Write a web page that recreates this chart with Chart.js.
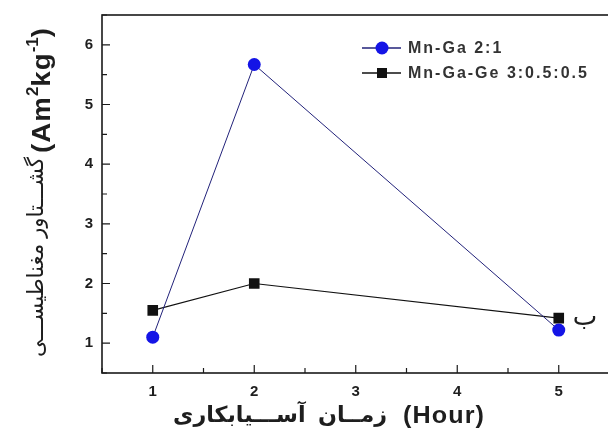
<!DOCTYPE html>
<html>
<head>
<meta charset="utf-8">
<script src="https://cdn.jsdelivr.net/npm/chart.js@4"></script>
<style>
  html, body { margin: 0; padding: 0; background: #fff; overflow: hidden; }
  #wrap { width: 608px; height: 433px; overflow: hidden; }
</style>
</head>
<body>
<div id="wrap"><canvas id="chart" width="617" height="433"></canvas></div>
<script>
const hours = [1, 2, 5];
const mnGa = [1.1, 5.67, 1.22];
const mnGaGe = [1.55, 2.0, 1.42];
const xTicks = [1, 2, 3, 4, 5];
const yTicks = [1, 2, 3, 4, 5, 6];
const seriesLabels = ['Mn-Ga 2:1', 'Mn-Ga-Ge 3:0.5:0.5'];
const yTitleFa = 'گشـــتاور مغناطیســـی';
const yTitleUnit = ['(Am', '2', 'kg', '-1', ')'];
const xTitleFa = 'زمــان  آســـیابکاری';
const xTitleUnit = '(Hour)';
const pointNote = 'ب';

const colors = {
  blue: '#1414e6',
  blueLine: '#22227a',
  black: '#111111',
  text: '#1e1e1e',
  axis: '#1a1a1a'
};
const fontFamily = 'Arial, "Liberation Sans", "DejaVu Sans", sans-serif';

// draw a list of text runs stretched to a target length along the baseline
function drawRuns(ctx, runs, x0, y0, target) {
  let natural = 0;
  runs.forEach(r => {
    ctx.font = r.font;
    ctx.letterSpacing = (r.spacing || 0) + 'px';
    r.w = ctx.measureText(r.text).width;
    natural += r.w;
  });
  ctx.save();
  ctx.translate(x0, y0);
  ctx.scale(target / natural, 1);
  let cx = 0;
  runs.forEach(r => {
    ctx.font = r.font;
    ctx.letterSpacing = (r.spacing || 0) + 'px';
    ctx.fillText(r.text, cx, r.dy || 0);
    cx += r.w;
  });
  ctx.restore();
  ctx.letterSpacing = '0px';
}

// inward ticks, frame, legend, titles and the note
const decorPlugin = {
  id: 'decor',
  afterDraw(chart) {
    const { ctx, chartArea: a, scales: { x, y } } = chart;
    ctx.save();
    ctx.strokeStyle = colors.axis;
    ctx.lineWidth = 1.6;
    ctx.strokeRect(a.left, a.top, a.right - a.left, a.bottom - a.top);

    ctx.lineWidth = 1.2;
    ctx.beginPath();
    for (let v = 0.5; v <= 6.5; v += 0.5) {
      const py = y.getPixelForValue(v);
      const len = Number.isInteger(v) ? 8 : 5;
      ctx.moveTo(a.left, py); ctx.lineTo(a.left + len, py);
    }
    for (let v = 0.5; v <= 5.5; v += 0.5) {
      const px = x.getPixelForValue(v);
      const len = Number.isInteger(v) ? 8 : 5;
      ctx.moveTo(px, a.bottom); ctx.lineTo(px, a.bottom - len);
    }
    ctx.stroke();

    // legend
    const ds = chart.data.datasets;
    const lx = 362, ly = [48, 73];
    ds.forEach((d, i) => {
      ctx.strokeStyle = d.borderColor;
      ctx.lineWidth = 1.5;
      ctx.beginPath();
      ctx.moveTo(lx, ly[i]); ctx.lineTo(lx + 39, ly[i]);
      ctx.stroke();
      ctx.fillStyle = d.backgroundColor;
      if (d.pointStyle === 'circle') {
        ctx.beginPath();
        ctx.arc(lx + 20, ly[i], 6.5, 0, Math.PI * 2);
        ctx.fill();
      } else {
        ctx.fillRect(lx + 15, ly[i] - 5, 10, 10);
      }
      ctx.fillStyle = '#333';
      ctx.font = 'bold 16px ' + fontFamily;
      ctx.letterSpacing = '2px';
      ctx.textAlign = 'left';
      ctx.textBaseline = 'middle';
      ctx.fillText(d.label, lx + 46, ly[i] + 1);
    });
    ctx.letterSpacing = '0px';

    ctx.fillStyle = colors.text;
    ctx.textAlign = 'left';
    ctx.textBaseline = 'alphabetic';
    ctx.direction = 'ltr';

    // x title
    drawRuns(ctx, [{ text: xTitleFa, font: 'bold 22px ' + fontFamily }], 173, 422, 214);
    drawRuns(ctx, [{ text: xTitleUnit, font: 'bold 23px ' + fontFamily, spacing: 1 }], 403, 423, 82);

    // y title (rotated)
    ctx.save();
    ctx.translate(50, 357);
    ctx.rotate(-Math.PI / 2);
    drawRuns(ctx, [{ text: yTitleFa, font: '22px ' + fontFamily, dy: -7 }], 0, 0, 200);
    const big = 'bold 26px ' + fontFamily, small = 'bold 16px ' + fontFamily;
    drawRuns(ctx, [
      { text: yTitleUnit[0], font: big, spacing: 1 },
      { text: yTitleUnit[1], font: small, dy: -12 },
      { text: yTitleUnit[2], font: big, spacing: 1 },
      { text: yTitleUnit[3], font: small, dy: -12 },
      { text: yTitleUnit[4], font: big }
    ], 204, 0, 125);
    ctx.restore();

    // note next to the last point
    ctx.font = '26px ' + fontFamily;
    ctx.textBaseline = 'middle';
    ctx.fillText(pointNote, x.getPixelForValue(5) + 14, y.getPixelForValue(1.42));
    ctx.restore();
  }
};

new Chart(document.getElementById('chart'), {
  type: 'scatter',
  data: {
    datasets: [
      {
        label: seriesLabels[0],
        data: hours.map((h, i) => ({ x: h, y: mnGa[i] })),
        showLine: true,
        borderColor: colors.blueLine,
        borderWidth: 1,
        backgroundColor: colors.blue,
        pointStyle: 'circle',
        pointRadius: 6.5,
        pointBorderWidth: 0,
        pointBackgroundColor: colors.blue
      },
      {
        label: seriesLabels[1],
        data: hours.map((h, i) => ({ x: h, y: mnGaGe[i] })),
        showLine: true,
        borderColor: colors.black,
        borderWidth: 1.2,
        backgroundColor: colors.black,
        pointStyle: 'rect',
        pointRadius: 7.5,
        pointBorderWidth: 0,
        pointBackgroundColor: colors.black
      }
    ]
  },
  options: {
    responsive: false,
    animation: false,
    layout: { padding: { top: 15, right: 0, left: 0, bottom: 0 } },
    plugins: {
      legend: { display: false },
      tooltip: { enabled: false }
    },
    scales: {
      x: {
        type: 'linear',
        min: 0.5,
        max: 5.5,
        afterFit: s => { s.height = 60; s.paddingLeft = 0; s.paddingRight = 0; },
        afterBuildTicks: s => { s.ticks = xTicks.map(v => ({ value: v })); },
        grid: { display: false, drawTicks: false },
        border: { display: false },
        ticks: {
          padding: 10,
          color: colors.text,
          font: { family: fontFamily, size: 15, weight: 'bold' }
        }
      },
      y: {
        min: 0.5,
        max: 6.5,
        afterFit: s => { s.width = 102; s.paddingTop = 0; s.paddingBottom = 0; },
        afterBuildTicks: s => { s.ticks = yTicks.map(v => ({ value: v })); },
        grid: { display: false, drawTicks: false },
        border: { display: false },
        ticks: {
          padding: 9,
          color: colors.text,
          font: { family: fontFamily, size: 15, weight: 'bold' }
        }
      }
    }
  },
  plugins: [decorPlugin]
});
</script>
</body>
</html>
